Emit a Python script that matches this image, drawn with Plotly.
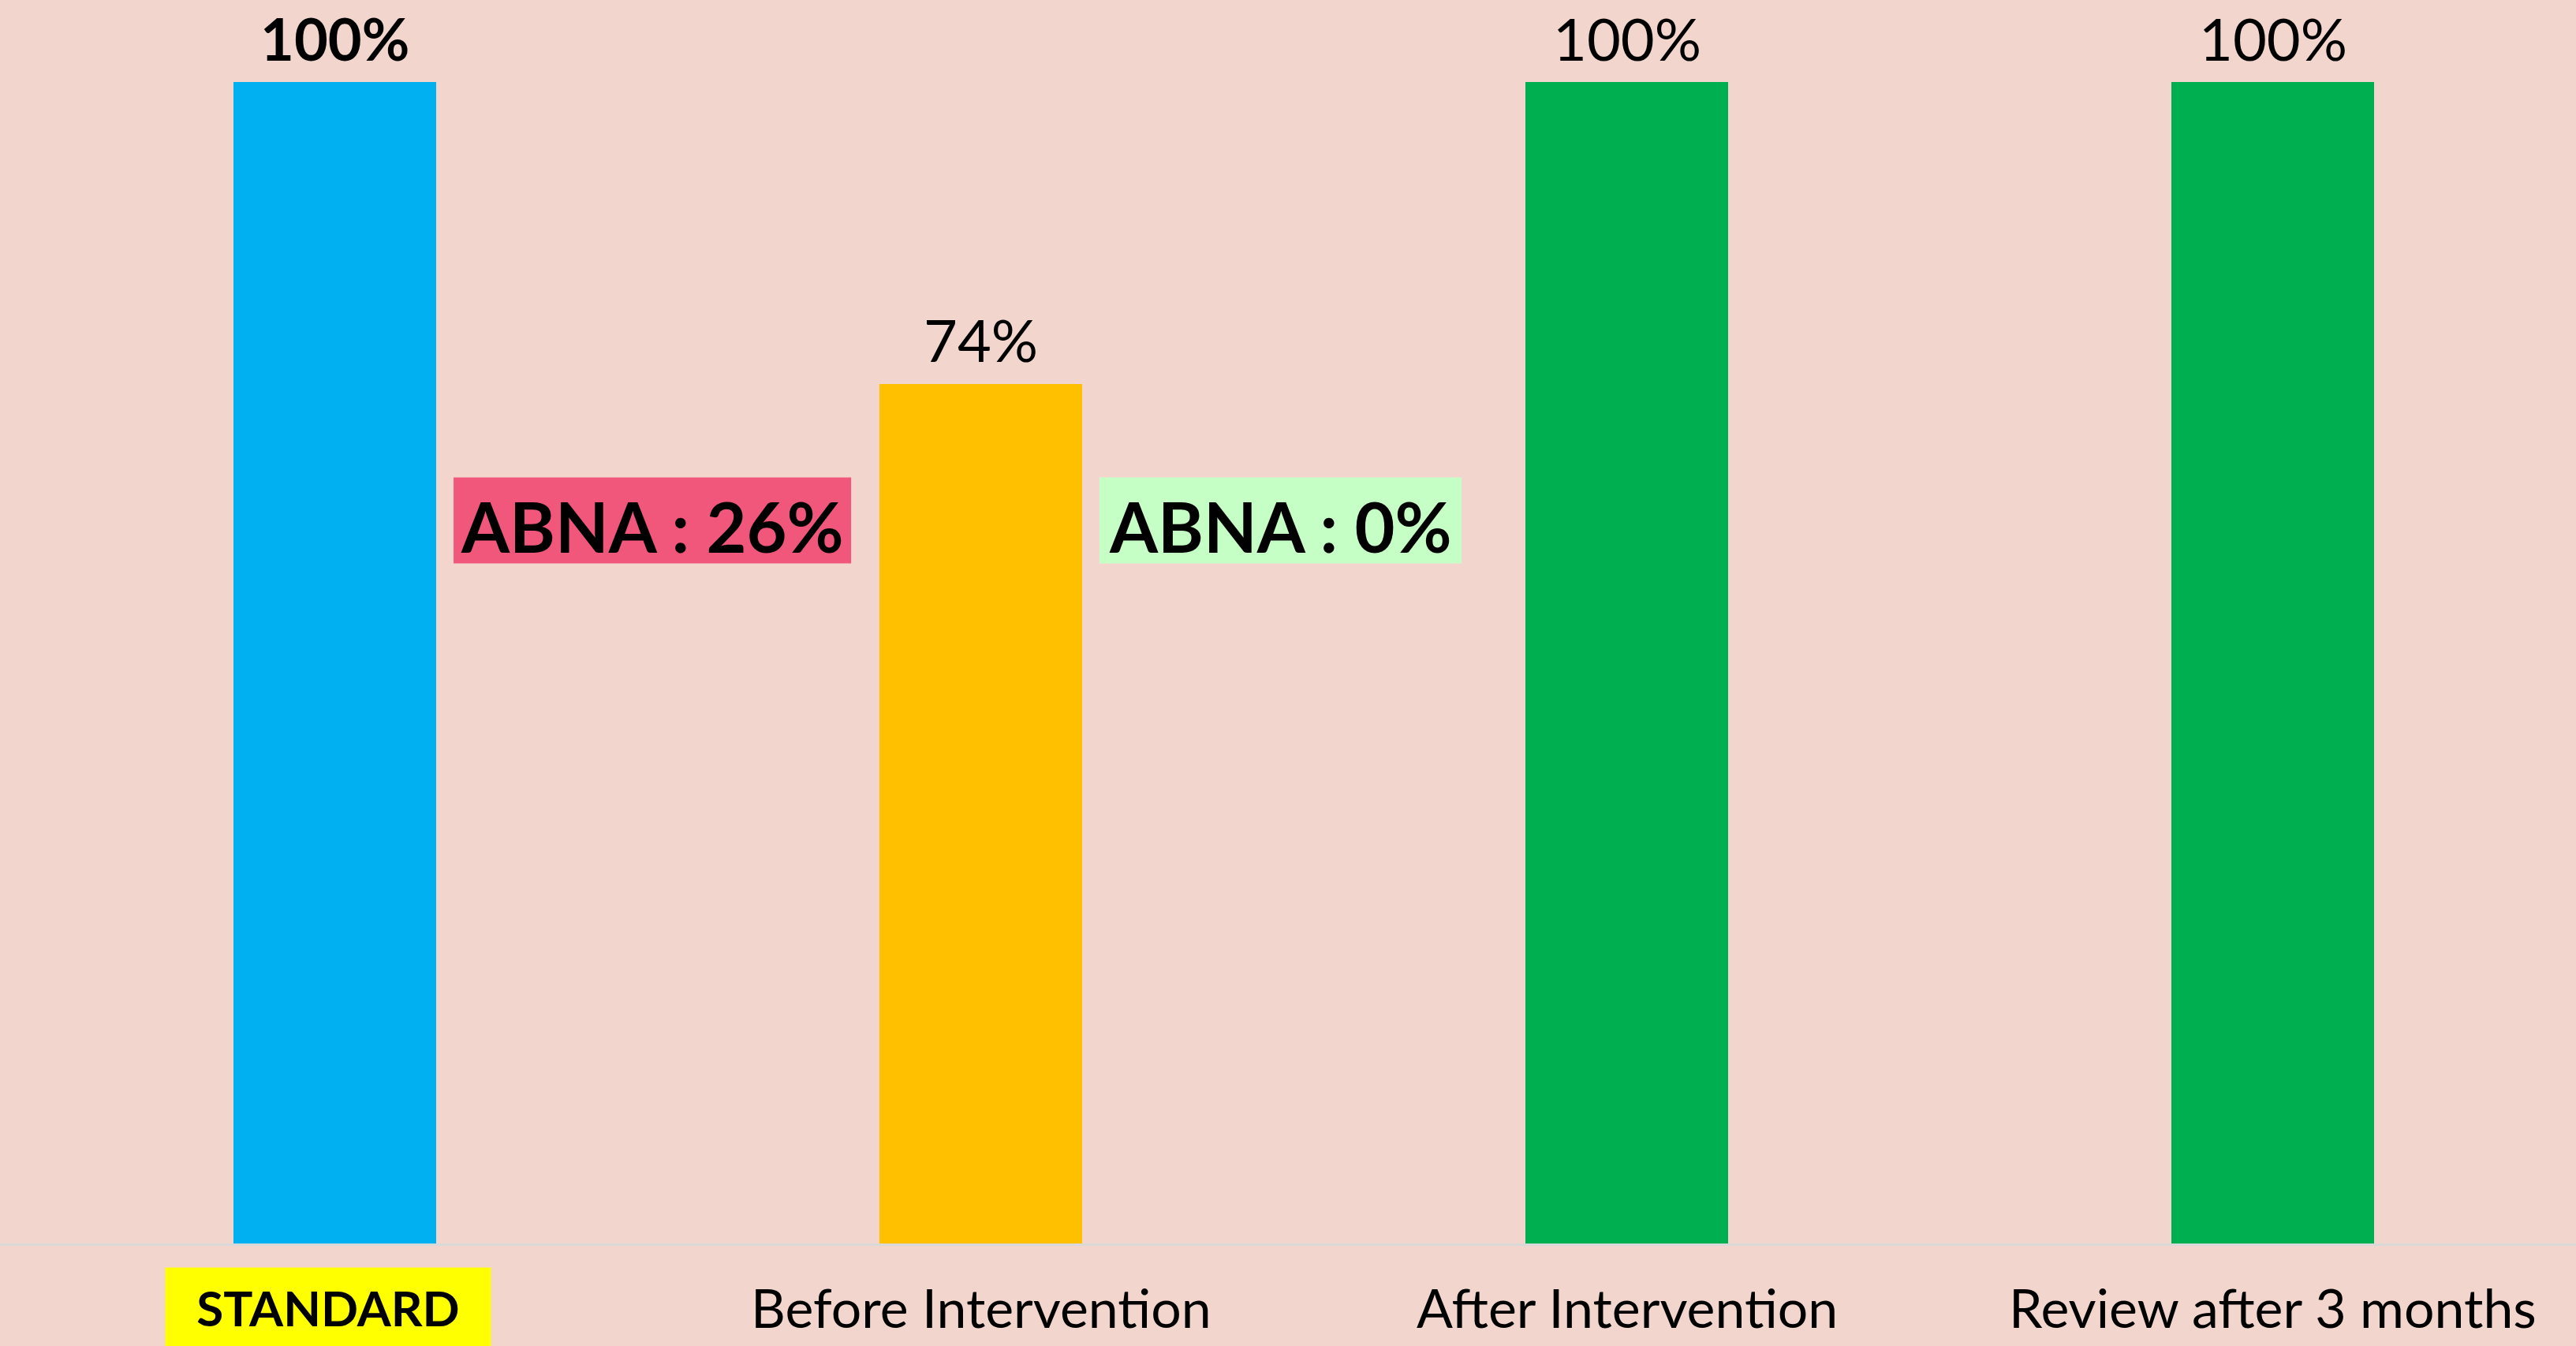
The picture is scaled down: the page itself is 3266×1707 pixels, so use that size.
import plotly.graph_objects as go

categories = ["STANDARD", "Before Intervention", "After Intervention", "Review after 3 months"]
values = [100, 74, 100, 100]
bar_colors = ["#00B0F0", "#FFC000", "#00B050", "#00B050"]
standard = values[0]

W, H = 3266, 1707
ML, MR, MT, MB = 0, 0, 104, 130
px_per_cat = 819.0
first_center_px = 424.5
x0 = -first_center_px / px_per_cat
x1 = x0 + (W - ML - MR) / px_per_cat
bar_w = 0.314
plot_h = H - MT - MB

FONT = "Lato"
fig = go.Figure()
fig.add_trace(go.Bar(
    x=list(range(len(categories))),
    y=[v / 100 for v in values],
    width=bar_w,
    marker=dict(color=bar_colors, line=dict(width=0)),
    hoverinfo="skip",
))

annotations = []
shapes = []
# value labels above bars
for i, v in enumerate(values):
    annotations.append(dict(
        x=i, y=v / 100, xref="x", yref="y",
        text=("<b>%d%%</b>" % v) if i == 0 else ("%d%%" % v),
        showarrow=False, xanchor="center", yanchor="middle", yshift=56,
        font=dict(family=FONT, size=74, color="black"),
    ))

# category labels
label_y = -(1657 - (H - MB)) / plot_h
for i, c in enumerate(categories):
    if i == 0:
        annotations.append(dict(
            x=i, y=label_y, xref="x", yref="paper", text="<b>%s</b>" % c,
            showarrow=False, xanchor="center", yanchor="middle", xshift=-9,
            font=dict(family=FONT, size=62, color="black"),
            bgcolor="#FFFF00", width=412, height=99, borderpad=0,
        ))
    else:
        annotations.append(dict(
            x=i, y=label_y, xref="x", yref="paper", text=c,
            showarrow=False, xanchor="center", yanchor="middle",
            font=dict(family=FONT, size=68, color="black"),
        ))

# ABNA (gap to standard) boxes
gap_colors = ["#F0577A", "#C6FFC6"]
gap_widths = [504, 459]
box_y = 0.6225
for k in range(2):
    gap = standard - values[k + 1]
    anchor = k + bar_w / 2
    shapes.append(dict(
        type="rect", xref="x", yref="y", xsizemode="pixel", ysizemode="pixel",
        xanchor=anchor, yanchor=box_y, x0=22, x1=22 + gap_widths[k], y0=-54.5, y1=54.5,
        fillcolor=gap_colors[k], line=dict(width=0), layer="above",
    ))
    annotations.append(dict(
        x=anchor, y=box_y, xref="x", yref="y",
        text="<b>ABNA : %d%%</b>" % gap, showarrow=False,
        xanchor="center", yanchor="middle", xshift=22 + gap_widths[k] / 2, yshift=-7,
        font=dict(family=FONT, size=88, color="black"),
    ))

fig.update_layout(
    width=W, height=H,
    margin=dict(l=ML, r=MR, t=MT, b=MB, pad=0),
    paper_bgcolor="#F2D6CE", plot_bgcolor="#F2D6CE",
    showlegend=False,
    bargap=0,
    annotations=annotations,
    shapes=shapes,
    xaxis=dict(range=[x0, x1], showgrid=False, zeroline=False, showticklabels=False,
               ticks="", showline=True, linecolor="#D9D9D9", linewidth=3, fixedrange=True),
    yaxis=dict(range=[0, 1], showgrid=False, zeroline=False, showticklabels=False,
               ticks="", showline=False, fixedrange=True),
)

fig.write_html(
    "out.html",
    config={"displayModeBar": False},
    post_script="document.body.style.margin='0';document.body.style.overflow='hidden';document.body.style.background='#F2D6CE';",
)
